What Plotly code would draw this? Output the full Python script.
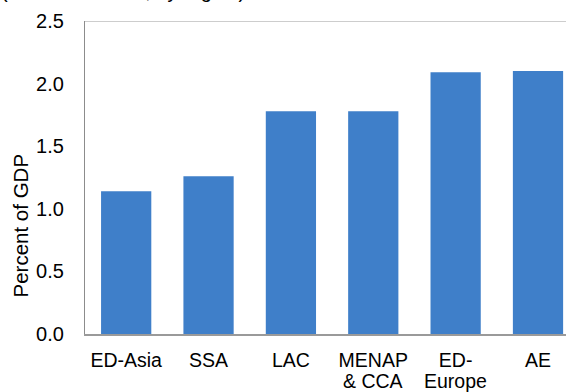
import plotly.graph_objects as go

categories = ["ED-Asia", "SSA", "LAC", "MENAP", "ED-", "AE"]
categories_line2 = ["", "", "", "& CCA", "Europe", ""]
values = [1.14, 1.26, 1.78, 1.78, 2.09, 2.10]
y_ticks = [0.0, 0.5, 1.0, 1.5, 2.0, 2.5]
y_tick_labels = ["0.0", "0.5", "1.0", "1.5", "2.0", "2.5"]
y_title = "Percent of GDP"
top_title = "(Percent of GDP, by region)"

W, H = 566, 392
L, R, T, B = 85, 0, 21, 58
pw = W - L - R
ph = H - T - B
FONT = "Liberation Sans, Arial, sans-serif"

fig = go.Figure()
fig.add_trace(go.Bar(
    x=list(range(len(categories))), y=values,
    marker=dict(color="#3f7fc9", line=dict(width=0)),
    width=0.61,
))

annotations = [
    dict(text=y_title, textangle=-90, xref="paper", yref="paper",
         x=(19.5 - L) / pw, y=(H - B - 226) / ph, xanchor="center", yanchor="middle",
         showarrow=False, font=dict(family=FONT, size=20.5, color="black")),
    dict(text=top_title, xref="paper", yref="paper",
         x=(-1 - L) / pw, y=(H - B - 4) / ph, xanchor="left", yanchor="bottom",
         showarrow=False, font=dict(family=FONT, size=20, color="black")),
]
for i, t in enumerate(categories_line2):
    if t:
        annotations.append(dict(
            text=t, xref="x", yref="paper", x=i, y=-(381 - (H - B)) / ph,
            xanchor="center", yanchor="middle", showarrow=False,
            font=dict(family=FONT, size=19.5, color="black")))

fig.update_layout(
    width=W, height=H,
    margin=dict(l=L, r=R, t=T, b=B, pad=0, autoexpand=False),
    paper_bgcolor="white", plot_bgcolor="white",
    font=dict(family=FONT, size=20, color="black"),
    showlegend=False,
    xaxis=dict(
        tickmode="array", tickvals=list(range(len(categories))), ticktext=categories,
        range=[-0.5, 5.34], showgrid=False, zeroline=False, automargin=False,
        showline=True, linecolor="#9a9a9a", linewidth=1.5,
        ticks="", ticklabelstandoff=8,
        tickfont=dict(family=FONT, size=19.5, color="black"),
    ),
    yaxis=dict(
        range=[0, 2.5], tickvals=y_ticks, ticktext=y_tick_labels,
        showgrid=False, zeroline=False, automargin=False,
        showline=True, linecolor="#8c8c8c", linewidth=1.2,
        ticks="", ticklabelstandoff=16,
        tickfont=dict(family=FONT, size=20, color="black"),
    ),
    shapes=[dict(type="line", xref="paper", yref="y", x0=0, x1=1, y0=2.5, y1=2.5,
                 line=dict(color="#bdbdbd", width=1.5))],
    annotations=annotations,
)

fig.write_html("out.html")
